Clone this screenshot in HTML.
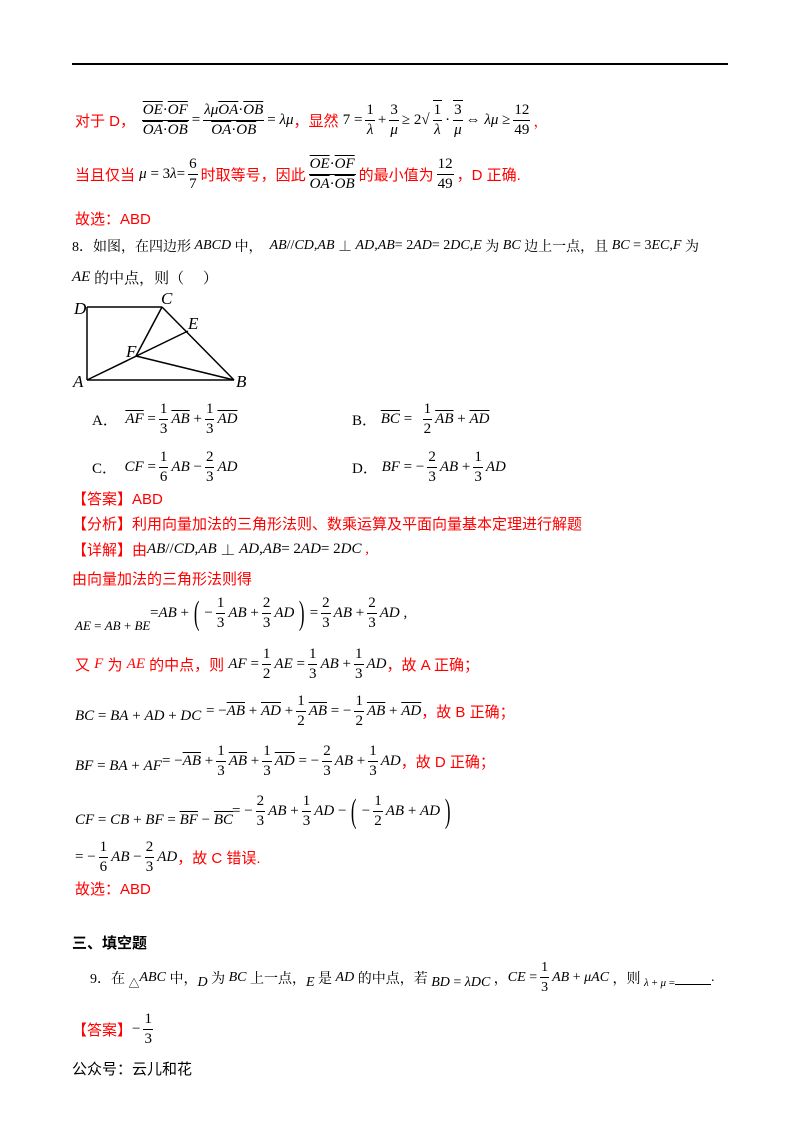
<!DOCTYPE html>
<html><head><meta charset="utf-8"><style>
body{margin:0;background:#fff;width:800px;height:1132px;position:relative;overflow:hidden;font-family:"Liberation Serif","Noto Serif CJK SC","Noto Sans CJK SC",serif;font-size:15px;color:#000}
.l{position:absolute;white-space:nowrap;display:flex;align-items:center}
.r{color:#f00}
i{font-family:"Liberation Serif",serif;font-style:italic}
.f{display:inline-flex;flex-direction:column;text-align:center;margin:0 3px;line-height:19px}
.f>span:first-child{border-bottom:1px solid #000;padding:0 1px}
.ov{text-decoration:overline}
.cj{font-family:"Liberation Sans","Noto Sans CJK SC",sans-serif}
.p{font-size:34px;font-weight:100;margin:0 2px;transform:scaleX(.5)}
</style></head><body>
<div style="position:absolute;left:72px;top:63px;width:656px;height:2px;background:#000"></div>

<div class="l" style="left:75px;top:100px"><span class="r cj">对于 D，</span>&nbsp;<span class="f"><span><i class="ov">OE</i>·<i class="ov">OF</i></span><span><i class="ov">OA</i>·<i class="ov">OB</i></span></span>=<span class="f"><span><i>λμ</i><i class="ov">OA</i>·<i class="ov">OB</i></span><span><i class="ov">OA</i>·<i class="ov">OB</i></span></span>=&nbsp;<i>λμ</i><span class="r cj">，显然&nbsp;</span>7 =<span class="f"><span>1</span><span><i>λ</i></span></span>+<span class="f"><span>3</span><span><i>μ</i></span></span>≥ 2√<span class="f" style="border-top:1px solid #000"><span>1</span><span><i>λ</i></span></span>·<span class="f" style="border-top:1px solid #000"><span>3</span><span><i>μ</i></span></span>⇔&nbsp;<i>λμ</i>&nbsp;≥<span class="f"><span>12</span><span>49</span></span><span class="r">，</span></div>

<div class="l" style="left:75px;top:155px"><span class="r cj">当且仅当&nbsp;</span><i>μ</i>&nbsp;= 3<i>λ</i> =<span class="f"><span>6</span><span>7</span></span><span class="r cj">时取等号，因此</span><span class="f"><span><i class="ov">OE</i>·<i class="ov">OF</i></span><span><i class="ov">OA</i>·<i class="ov">OB</i></span></span><span class="r cj">的最小值为</span><span class="f"><span>12</span><span>49</span></span><span class="r cj">，D 正确.</span></div>

<div class="l r cj" style="left:75px;top:208px">故选：ABD</div>

<div class="l" style="left:72px;top:236px;font-size:14px">8．如图，在四边形&nbsp;<i>ABCD</i>&nbsp;中，&nbsp;&nbsp;<i>AB</i>//<i>CD</i>, <i>AB</i>&nbsp;⊥&nbsp;<i>AD</i>, <i>AB</i> = 2<i>AD</i> = 2<i>DC</i>, <i>E</i>&nbsp;为&nbsp;<i>BC</i>&nbsp;边上一点，且&nbsp;<i>BC</i>&nbsp;= 3<i>EC</i>, <i>F</i>&nbsp;为</div>
<div class="l" style="left:72px;top:267px"><i>AE</i>&nbsp;的中点，则（&nbsp;&nbsp;&nbsp;&nbsp;&nbsp;）</div>

<svg style="position:absolute;left:0;top:0" width="800" height="400">
<g stroke="#000" stroke-width="1.5" fill="none">
<line x1="87" y1="307" x2="162" y2="307"/><line x1="87" y1="307" x2="87" y2="380"/><line x1="87" y1="380" x2="234" y2="380"/>
<line x1="162" y1="307" x2="234" y2="380"/><line x1="87" y1="380" x2="188" y2="331"/><line x1="136" y1="356" x2="162" y2="307"/><line x1="136" y1="356" x2="234" y2="380"/>
</g>
<g font-family="Liberation Serif" font-style="italic" font-size="17">
<text x="74" y="314">D</text><text x="161" y="304">C</text><text x="188" y="329">E</text><text x="126" y="357">F</text><text x="73" y="387">A</text><text x="236" y="387">B</text></g>
</svg>

<div class="l" style="left:92px;top:400px">A．&nbsp;&nbsp;<i class="ov">AF</i>&nbsp;=<span class="f"><span>1</span><span>3</span></span><i class="ov">AB</i>&nbsp;+<span class="f"><span>1</span><span>3</span></span><i class="ov">AD</i></div>
<div class="l" style="left:352px;top:400px">B．&nbsp;<i class="ov">BC</i>&nbsp;=&nbsp;&nbsp;<span class="f"><span>1</span><span>2</span></span><i class="ov">AB</i>&nbsp;+&nbsp;<i class="ov">AD</i></div>
<div class="l" style="left:92px;top:448px">C．&nbsp;&nbsp;<i>CF</i>&nbsp;=<span class="f"><span>1</span><span>6</span></span><i>AB</i>&nbsp;−<span class="f"><span>2</span><span>3</span></span><i>AD</i></div>
<div class="l" style="left:352px;top:448px">D．&nbsp;<i>BF</i>&nbsp;= −<span class="f"><span>2</span><span>3</span></span><i>AB</i>&nbsp;+<span class="f"><span>1</span><span>3</span></span><i>AD</i></div>

<div class="l r cj" style="left:72px;top:488px">【答案】ABD</div>
<div class="l r cj" style="left:72px;top:513px">【分析】利用向量加法的三角形法则、数乘运算及平面向量基本定理进行解题</div>
<div class="l r" style="left:72px;top:539px"><span class="cj">【详解】由</span><i style="color:#000">AB</i><span style="color:#000">//</span><i style="color:#000">CD</i><span style="color:#000">, </span><i style="color:#000">AB</i><span style="color:#000">&nbsp;⊥&nbsp;</span><i style="color:#000">AD</i><span style="color:#000">, </span><i style="color:#000">AB</i><span style="color:#000"> = 2</span><i style="color:#000">AD</i><span style="color:#000"> = 2</span><i style="color:#000">DC</i>&nbsp;,</div>
<div class="l r cj" style="left:72px;top:568px">由向量加法的三角形法则得</div>

<div class="l" style="left:75px;top:618px;font-size:13px"><i>AE</i>&nbsp;=&nbsp;<i>AB</i>&nbsp;+&nbsp;<i>BE</i></div>
<div class="l" style="left:150px;top:594px">= <i>AB</i>&nbsp;+<span class="p">(</span>−<span class="f"><span>1</span><span>3</span></span><i>AB</i>&nbsp;+<span class="f"><span>2</span><span>3</span></span><i>AD</i><span class="p">)</span>=<span class="f"><span>2</span><span>3</span></span><i>AB</i>&nbsp;+<span class="f"><span>2</span><span>3</span></span><i>AD</i>&nbsp;,</div>

<div class="l" style="left:75px;top:645px"><span class="r cj">又&nbsp;</span><i class="r">F</i><span class="r cj">&nbsp;为&nbsp;</span><i class="r">AE</i><span class="r cj">&nbsp;的中点，则&nbsp;</span><i>AF</i>&nbsp;=<span class="f"><span>1</span><span>2</span></span><i>AE</i>&nbsp;=<span class="f"><span>1</span><span>3</span></span><i>AB</i>&nbsp;+<span class="f"><span>1</span><span>3</span></span><i>AD</i><span class="r cj">，故 A 正确；</span></div>

<div class="l" style="left:75px;top:708px"><i>BC</i>&nbsp;=&nbsp;<i>BA</i>&nbsp;+&nbsp;<i>AD</i>&nbsp;+&nbsp;<i>DC</i></div>
<div class="l" style="left:206px;top:692px">= −<i class="ov">AB</i>&nbsp;+&nbsp;<i class="ov">AD</i>&nbsp;+<span class="f"><span>1</span><span>2</span></span><i class="ov">AB</i>&nbsp;= −<span class="f"><span>1</span><span>2</span></span><i class="ov">AB</i>&nbsp;+&nbsp;<i class="ov">AD</i><span class="r cj">，故 B 正确；</span></div>

<div class="l" style="left:75px;top:758px"><i>BF</i>&nbsp;=&nbsp;<i>BA</i>&nbsp;+&nbsp;<i>AF</i></div>
<div class="l" style="left:162px;top:742px">= −<i class="ov">AB</i>&nbsp;+<span class="f"><span>1</span><span>3</span></span><i class="ov">AB</i>&nbsp;+<span class="f"><span>1</span><span>3</span></span><i class="ov">AD</i>&nbsp;= −<span class="f"><span>2</span><span>3</span></span><i>AB</i>&nbsp;+<span class="f"><span>1</span><span>3</span></span><i>AD</i><span class="r cj">，故 D 正确；</span></div>

<div class="l" style="left:75px;top:812px"><i>CF</i>&nbsp;=&nbsp;<i>CB</i>&nbsp;+&nbsp;<i>BF</i>&nbsp;=&nbsp;<i class="ov">BF</i>&nbsp;−&nbsp;<i class="ov">BC</i></div>
<div class="l" style="left:232px;top:792px">= −<span class="f"><span>2</span><span>3</span></span><i>AB</i>&nbsp;+<span class="f"><span>1</span><span>3</span></span><i>AD</i>&nbsp;−<span class="p">(</span>−<span class="f"><span>1</span><span>2</span></span><i>AB</i>&nbsp;+&nbsp;<i>AD</i><span class="p">)</span></div>

<div class="l" style="left:75px;top:838px">= −<span class="f"><span>1</span><span>6</span></span><i>AB</i>&nbsp;−<span class="f"><span>2</span><span>3</span></span><i>AD</i><span class="r cj">，故 C 错误.</span></div>

<div class="l r cj" style="left:75px;top:878px">故选：ABD</div>

<div class="l cj" style="left:72px;top:932px;font-weight:bold">三、填空题</div>
<div class="l" style="left:90px;top:958px;font-size:14px">9．在&nbsp;<span style="font-size:11px;margin-top:10px">△</span><i>ABC</i>&nbsp;中，<i style="margin-top:10px">D</i>&nbsp;为&nbsp;<i>BC</i>&nbsp;上一点，<i style="margin-top:10px">E</i>&nbsp;是&nbsp;<i>AD</i>&nbsp;的中点，若&nbsp;<i style="margin-top:10px">BD</i><span style="margin-top:10px">&nbsp;=&nbsp;<i>λDC</i></span>&nbsp;，<i>CE</i>&nbsp;=<span class="f"><span>1</span><span>3</span></span><i>AB</i>&nbsp;+&nbsp;<i>μAC</i>&nbsp;，则&nbsp;<i style="margin-top:10px;font-size:11px">λ</i><span style="margin-top:10px;font-size:11px">&nbsp;+&nbsp;<i>μ</i>&nbsp;=</span><span style="display:inline-block;width:36px;border-bottom:1px solid #000;height:14px"></span>.</div>

<div class="l" style="left:72px;top:1010px"><span class="r cj">【答案】</span>−<span class="f"><span>1</span><span>3</span></span></div>

<div class="l cj" style="left:72px;top:1058px;font-size:15px">公众号：云儿和花</div>
</body></html>
